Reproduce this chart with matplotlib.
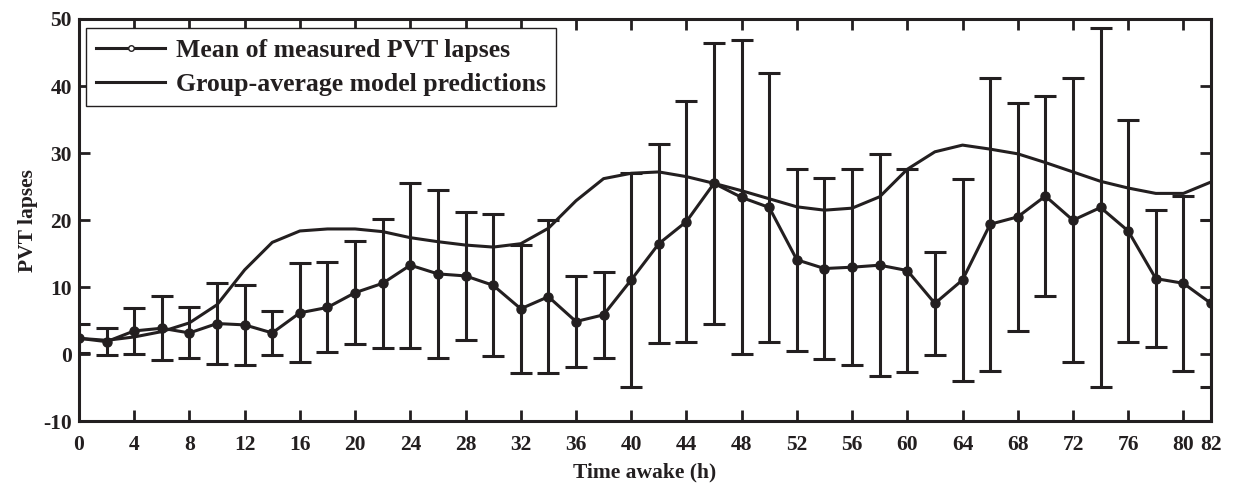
import numpy as np
import matplotlib
matplotlib.use('Agg')
import matplotlib.pyplot as plt
from matplotlib.lines import Line2D

# hours awake
hours = np.arange(0, 83, 2)

# mean of measured PVT lapses
mean_lapses = [2.4, 1.9, 3.5, 3.9, 3.2, 4.6, 4.4, 3.2, 6.2, 7.0,
               9.2, 10.6, 13.3, 12.0, 11.7, 10.3, 6.8, 8.6, 4.9, 5.9,
               11.1, 16.5, 19.8, 25.5, 23.4, 21.9, 14.1, 12.8, 13.0, 13.3,
               12.5, 7.6, 11.1, 19.4, 20.5, 23.6, 20.0, 21.9, 18.4, 11.3,
               10.6, 7.6]

# standard deviation (error bar half-length)
sd_lapses = [2.2, 2.0, 3.4, 4.8, 3.8, 6.0, 6.0, 3.3, 7.4, 6.7,
             7.7, 9.6, 12.3, 12.5, 9.6, 10.6, 9.5, 11.4, 6.8, 6.4,
             16.0, 14.8, 18.0, 20.9, 23.4, 20.0, 13.6, 13.5, 14.6, 16.5,
             15.1, 7.7, 15.1, 21.8, 17.0, 14.9, 21.2, 26.8, 16.6, 10.2,
             13.0, 12.5]

# group-average model predictions
model_pred = [2.4, 2.1, 2.6, 3.4, 4.7, 7.4, 12.6, 16.7, 18.4, 18.7,
              18.7, 18.3, 17.4, 16.8, 16.3, 16.0, 16.5, 18.8, 22.9, 26.2,
              27.0, 27.2, 26.5, 25.5, 24.4, 23.2, 22.0, 21.5, 21.8, 23.5,
              27.6, 30.2, 31.2, 30.6, 29.9, 28.6, 27.2, 25.8, 24.8, 24.0,
              24.0, 25.7]

xticks = list(range(0, 81, 4)) + [82]
yticks = list(range(-10, 51, 10))

ink = '#231f20'
plt.rcParams['font.family'] = ['Liberation Serif', 'DejaVu Serif']
plt.rcParams['font.weight'] = 'bold'
plt.rcParams['axes.unicode_minus'] = False

fig = plt.figure(figsize=(12.38, 4.88), dpi=100)
ax = fig.add_axes([0.0638, 0.1363, 0.9144, 0.8248])

ax.plot(hours, model_pred, '-', color=ink, lw=2.2, zorder=2)
ax.errorbar(hours, mean_lapses, yerr=sd_lapses, fmt='-o', color=ink,
            lw=2.2, elinewidth=2.2, capsize=8, capthick=2.2,
            markersize=6.5, zorder=3)

ax.set_xlim(0, 82)
ax.set_ylim(-10, 50)
ax.set_xticks(xticks)
ax.set_yticks(yticks)
ax.tick_params(direction='in', length=8, width=2, top=True, right=True,
               labelsize=15.5, colors=ink)
ax.tick_params(axis='x', pad=10)
ax.tick_params(axis='y', pad=5)
for lab in ax.get_xticklabels() + ax.get_yticklabels():
    lab.set_fontweight('bold')
for sp in ax.spines.values():
    sp.set_linewidth(2.2)
    sp.set_color(ink)

ax.set_xlabel('Time awake (h)', fontsize=15.5, fontweight='bold', labelpad=5, color=ink)
ax.set_ylabel('PVT lapses', fontsize=15.5, fontweight='bold', labelpad=4, color=ink)

handles = [Line2D([], [], color=ink, lw=2.2, marker='o', markersize=4,
                  markerfacecolor='white', markeredgewidth=1),
           Line2D([], [], color=ink, lw=2.2)]
leg = ax.legend(handles, ['Mean of measured PVT lapses', 'Group-average model predictions'],
                loc='upper left', bbox_to_anchor=(0.006, 0.977), fancybox=False,
                framealpha=1, edgecolor=ink, handlelength=2.7, handletextpad=0.4,
                borderpad=0.4, labelspacing=0.45, borderaxespad=0,
                prop={'size': 18.5, 'weight': 'bold'})
leg.get_frame().set_linewidth(1.0)
for t in leg.get_texts():
    t.set_color(ink)

fig.savefig('out.png', dpi=100)
